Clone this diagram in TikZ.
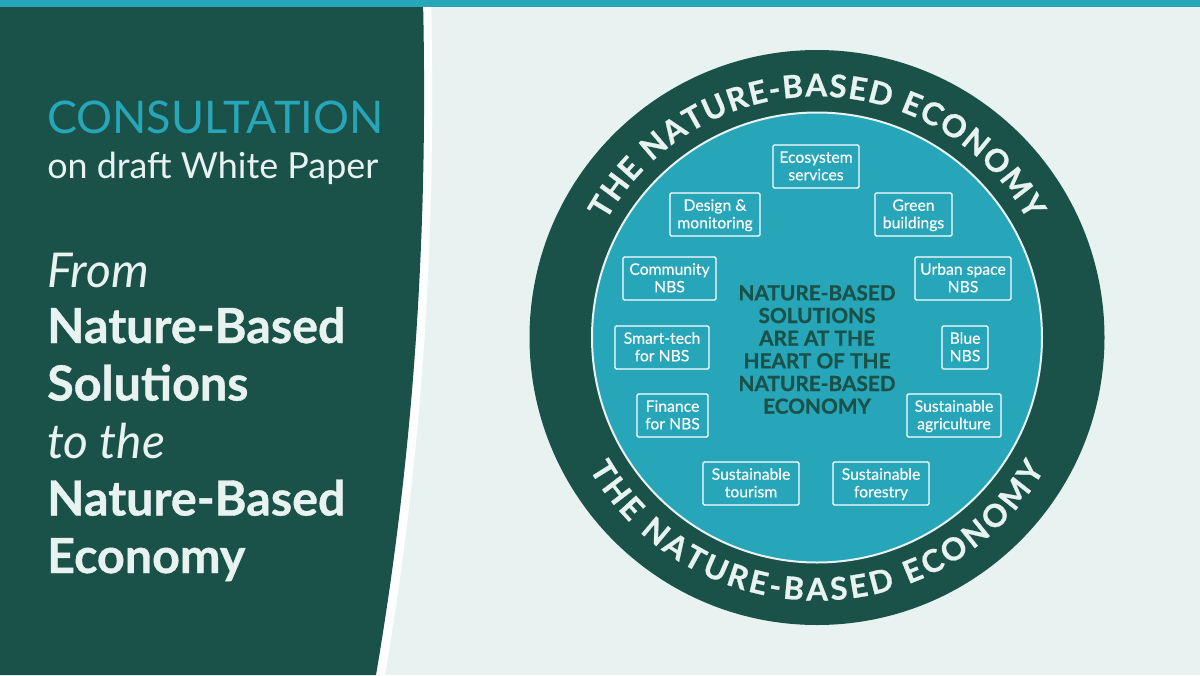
\documentclass[tikz,border=0pt]{standalone}
\usepackage{fontspec}
\setmainfont{Lato}
\newfontfamily\heavy{Lato}[UprightFont=* Bold,FakeBold=0.8]
\newfontfamily\medium{Lato}[FakeBold=0.3]
\usetikzlibrary{decorations.text}
\definecolor{darkgreen}{HTML}{1A5249}
\definecolor{tealc}{HTML}{27A5B9}
\definecolor{paleg}{HTML}{E8F3F1}
\newcommand{\tstrut}{\rule[-2.83pt]{0pt}{13.2pt}}
\tikzset{
  x=0.75pt,y=-0.75pt,
  itembox/.style={draw=white,line width=1.1pt,rounded corners=1pt,text=white,align=center,inner sep=0pt,
    font=\medium\fontsize{11.8}{13.2}\selectfont,minimum height=32.25pt},
  paneltext/.style={anchor=base west,inner sep=0pt,text=paleg},
  bigbold/.style={paneltext,font=\heavy\fontsize{36.3}{40}\selectfont},
  bigital/.style={paneltext,font=\fontsize{36}{42}\itshape\selectfont},
}
\begin{document}
\begin{tikzpicture}
\useasboundingbox (0,0) rectangle (1200,675);
\fill[paleg] (0,0) rectangle (1200,675);
\path[fill=white] (423,0) .. controls (428,220) and (416,440) .. (376,675) -- (385,675) .. controls (425,440) and (436,220) .. (431,0) -- cycle;
\fill[darkgreen] (0,0) -- (423,0) .. controls (428,220) and (416,440) .. (376,675) -- (0,675) -- cycle;
\fill[tealc] (0,0) rectangle (1200,7);
% left texts
\node[paneltext,text=tealc,font=\fontsize{33.7}{40}\selectfont] (t1) at (47,133) {CONSULTATION};
\node[paneltext,font=\fontsize{26.9}{30}\selectfont] (t2) at (47,178) {on draft White Paper};
\node[bigital] (t3) at (47,287) {From};
\node[bigbold] (t4) at (47,343) {Nature-Based};
\node[bigbold] (t5) at (47,400.5) {Solutions};
\node[bigital] (t6) at (47,458) {to the};
\node[bigbold] (t7) at (47,515.5) {Nature-Based};
\node[bigbold] (t8) at (47,573) {Economy};
% circles
\coordinate (c) at (817,337.5);
\fill[darkgreen] (c) circle[radius=287.5];
\filldraw[fill=tealc,draw=paleg,line width=1.5pt] (c) circle[radius=225];
% ring text
\path[decorate,decoration={text along path,text align={fit to path},
  text={|\heavy\fontsize{23.5}{26}\selectfont\color{paleg}|THE NATURE-BASED ECONOMY}}]
  (c) ++(-151:241) arc[start angle=-151,end angle=-29,radius=241];
\path[decorate,decoration={text along path,text align={fit to path},
  text={|\heavy\fontsize{23.5}{26}\selectfont\color{paleg}|THE NATURE-BASED ECONOMY}}]
  (c) ++(-210:263) arc[start angle=-210,end angle=-330,radius=263];
% centre
\node[text=darkgreen,align=center,inner sep=0pt,font=\heavy\fontsize{15.6}{17}\selectfont] (centre) at (817,349.5)
 {NATURE-BASED\\SOLUTIONS\\ARE AT THE\\HEART OF THE\\NATURE-BASED\\ECONOMY};
% boxes
\node[itembox,minimum width=64.5pt] (b1) at (816,166.5) {\tstrut Ecosystem\\\tstrut services};
\node[itembox,minimum width=67.5pt] (b2) at (715,214.5) {\tstrut Design \&\\\tstrut monitoring};
\node[itembox,minimum width=57.75pt] (b3) at (913.5,214.5) {\tstrut Green\\\tstrut buildings};
\node[itembox,minimum width=69.75pt] (b4) at (669.5,278.5) {\tstrut Community\\\tstrut NBS};
\node[itembox,minimum width=72pt] (b5) at (963,278.5) {\tstrut Urban space\\\tstrut NBS};
\node[itembox,minimum width=70.5pt] (b6) at (662,347.5) {\tstrut Smart-tech\\\tstrut for NBS};
\node[itembox,minimum width=34.5pt] (b7) at (965,347.5) {\tstrut Blue\\\tstrut NBS};
\node[itembox,minimum width=53.25pt] (b8) at (672.5,415.5) {\tstrut Finance\\\tstrut for NBS};
\node[itembox,minimum width=70.5pt] (b9) at (954,415.5) {\tstrut Sustainable\\\tstrut agriculture};
\node[itembox,minimum width=72pt] (b10) at (751,483.5) {\tstrut Sustainable\\\tstrut tourism};
\node[itembox,minimum width=72pt] (b11) at (881,483.5) {\tstrut Sustainable\\\tstrut forestry};
\end{tikzpicture}
\end{document}
